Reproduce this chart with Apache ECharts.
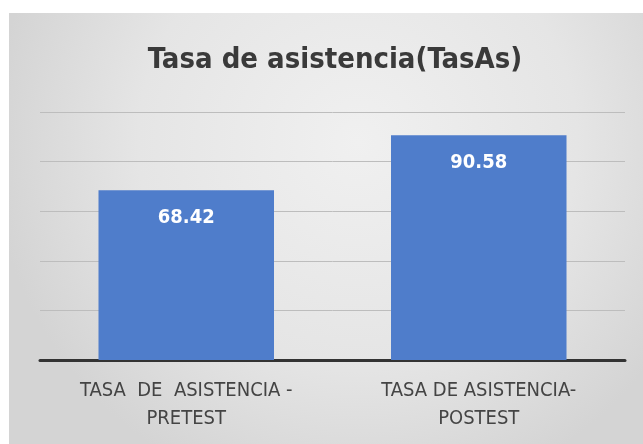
<!DOCTYPE html>
<html>
<head>
<meta charset="utf-8">
<script src="https://cdn.jsdelivr.net/npm/echarts@6/dist/echarts.min.js"></script>
<style>html,body{margin:0;padding:0;background:#fff;}#c{width:643px;height:444px;}</style>
</head>
<body>
<div id="c"></div>
<script>
var titleText = 'Tasa de asistencia(TasAs)';
var categories = ['TASA  DE  ASISTENCIA -\nPRETEST', 'TASA DE ASISTENCIA-\nPOSTEST'];
var values = [68.42, 90.58];
var yMin = 0, yMax = 100, yInterval = 20;

var FONT = '"Liberation Sans Narrow", "DejaVu Sans Condensed", "Liberation Sans", sans-serif';
var chart = echarts.init(document.getElementById('c'));
chart.setOption({
  backgroundColor: '#ffffff',
  animation: false,
  graphic: [{
    type: 'rect', z: -10, silent: true,
    shape: {x: 9, y: 13, width: 634, height: 431},
    style: {
      fill: new echarts.graphic.RadialGradient(0.55, 0.3, 0.85, [
        {offset: 0, color: '#f0f0f0'},
        {offset: 0.6, color: '#e5e5e5'},
        {offset: 1, color: '#d4d4d4'}
      ])
    }
  }],
  title: {
    text: titleText,
    left: 330, top: 41, textAlign: 'center',
    textStyle: {fontFamily: FONT, fontWeight: 'bold', fontSize: 29, color: '#3a3a3a'}
  },
  grid: {left: 40, right: 18, top: 112, bottom: 84, containLabel: false},
  xAxis: {
    type: 'category', data: categories,
    axisLine: {show: true, lineStyle: {color: '#333333', width: 3}},
    axisTick: {show: false},
    axisLabel: {fontFamily: FONT, fontSize: 20, color: '#444444', lineHeight: 28, margin: 17, interval: 0}
  },
  yAxis: {
    type: 'value', min: yMin, max: yMax, interval: yInterval,
    axisLabel: {show: false}, axisLine: {show: false}, axisTick: {show: false},
    splitLine: {lineStyle: {color: '#bdbdbd', width: 1}}
  },
  series: [{
    type: 'bar', data: values, barWidth: '60%',
    itemStyle: {color: '#4f7dcb'},
    label: {show: true, position: 'insideTop', distance: 17, fontFamily: FONT, fontWeight: 'bold', fontSize: 20, color: '#ffffff'}
  }]
});
</script>
</body>
</html>
